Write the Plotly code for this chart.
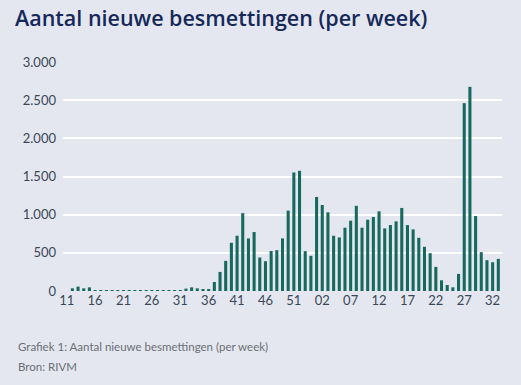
import plotly.graph_objects as go

# ---- data ----
weeks_2020 = [f"{w:02d}" for w in range(11, 54)]          # 11 .. 53
weeks_2021 = [f"{w:02d}" for w in range(0, 34)]           # 00 .. 33
categories = [f"2020-{w}" for w in weeks_2020] + [f"2021-{w}" for w in weeks_2021]

values_2020 = [
    0, 35, 57, 35, 48, 13, 10, 3, 2, 2, 1, 1, 1, 1, 2, 2, 2, 3, 3, 4,   # w11-w30
    13, 31, 48, 35, 26, 26, 118, 250, 395, 632, 724, 1020, 689, 772,   # w31-w44
    439, 390, 524, 535, 689, 1053, 1553, 1575, 522,                     # w45-w53
]
values_2021 = [
    461, 1232, 1127, 1031, 724, 702, 829, 921, 1116, 829, 934, 969,     # w00-w11
    1044, 820, 864, 912, 1088, 864, 807, 697, 579, 496, 316, 140,       # w12-w23
    79, 48, 224, 2461, 2675, 982, 509, 404, 377, 421,                   # w24-w33
]
values = values_2020 + values_2021

tick_every = 5
tick_vals = categories[::tick_every]
tick_text = [c.split("-")[1] for c in tick_vals]

y_ticks = [0, 500, 1000, 1500, 2000, 2500, 3000]

title_text = "Aantal nieuwe besmettingen (per week)"
caption_1 = "Grafiek 1: Aantal nieuwe besmettingen (per week)"
caption_2 = "Bron: RIVM"

# ---- figure ----
bg = "#e4e7ef"
fig = go.Figure(
    go.Bar(x=categories, y=values, marker=dict(color="#17695f", line=dict(width=0)),
           hoverinfo="x+y")
)

fig.update_layout(
    width=521, height=385,
    paper_bgcolor=bg, plot_bgcolor=bg,
    margin=dict(l=63, r=19, t=62, b=94),
    separators=",.",
    bargap=0.46,
    showlegend=False,
    font=dict(family="Lato, Open Sans, sans-serif", color="#3b4656", size=13),
    title=dict(text=title_text, x=15 / 521, xref="container", xanchor="left",
               y=1 - 11 / 385, yref="container", yanchor="top",
               font=dict(family="Open Sans", size=21.5, color="#16295a", weight=600)),
)

fig.update_xaxes(
    type="category", range=[-0.65, len(categories) - 1 + 0.65],
    tickmode="array", tickvals=tick_vals, ticktext=tick_text,
    showgrid=False, zeroline=False, showline=False, ticks="",
    tickfont=dict(size=13, color="#3b4656"), ticklabelstandoff=0,
)
fig.update_yaxes(
    range=[0, 3000], tickvals=y_ticks, tickformat=",d",
    showgrid=True, gridcolor="#ffffff", gridwidth=1.5,
    zeroline=False, showline=False, ticks="",
    tickfont=dict(size=13, color="#3b4656"), ticklabelstandoff=6,
)

fig.add_annotation(text=caption_1, xref="paper", yref="paper", x=-47/438, y=-55/228,
                   xanchor="left", yanchor="middle", showarrow=False,
                   font=dict(family="Lato", size=11.5, color="#6b6f75"))
fig.add_annotation(text=caption_2, xref="paper", yref="paper", x=-47/438, y=-75/228,
                   xanchor="left", yanchor="middle", showarrow=False,
                   font=dict(family="Lato", size=11.5, color="#6b6f75"))

fig.write_html("out.html", config={"displayModeBar": False})

# remove the browser's default page margin so the figure sits at (0, 0)
with open("out.html", encoding="utf-8") as f:
    html = f.read()
html = html.replace("<head>", "<head><style>html,body{margin:0;padding:0;background:%s;}</style>" % bg, 1)
with open("out.html", "w", encoding="utf-8") as f:
    f.write(html)
